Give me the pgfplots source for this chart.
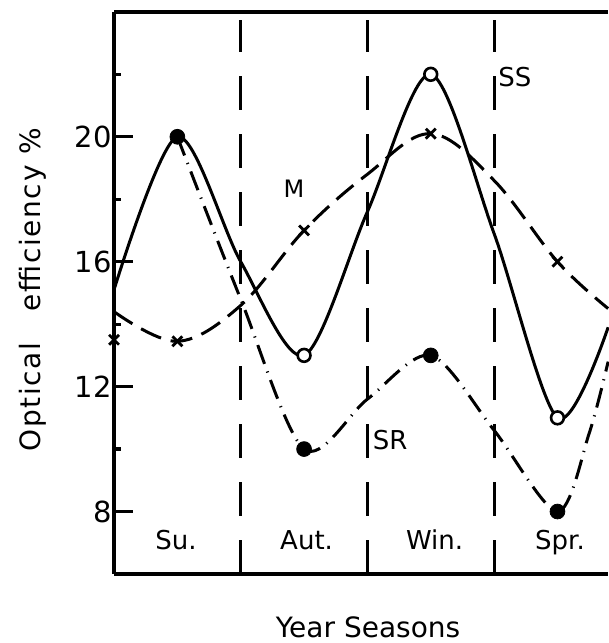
\documentclass[border=0pt]{standalone}
\usepackage{pgfplots}
\pgfplotsset{compat=1.18}
\usepackage{fontspec}
\setmainfont{DejaVu Sans}

\begin{document}
\begin{tikzpicture}
\begin{axis}[
  scale only axis,
  width=247pt, height=281pt,
  xmin=0, xmax=3.9,
  ymin=6, ymax=24,
  axis x line*=box,
  axis y line*=left,
  axis line style={line width=1.8pt},
  xtick=\empty,
  ytick={8,12,16,20},
  minor ytick={10,14,18,22},
  tick align=inside,
  major tick length=9.5pt,
  minor tick length=3.5pt,
  every tick/.style={black, line width=1.6pt},
  /pgf/number format/assume math mode=true,
  yticklabel style={font=\fontsize{14.5}{17}\selectfont, inner sep=0pt, xshift=-1pt},
  clip=false,
]

% season boundaries
\addplot[line width=1.5pt, dash pattern=on 17pt off 12pt] coordinates {(1,6) (1,23.75)};
\addplot[line width=1.5pt, dash pattern=on 17pt off 12pt] coordinates {(2,6) (2,23.75)};
\addplot[line width=1.5pt, dash pattern=on 17pt off 12pt] coordinates {(3,6) (3,23.75)};

% SS
\addplot[line width=1.5pt, smooth, tension=0.5] coordinates {
(0,15.1) (0.5,20) (1,16) (1.5,13) (2,17.6) (2.5,22) (3,16.9) (3.5,11) (3.9,13.9)
};

% M
\addplot[line width=1.5pt, smooth, tension=0.6, dash pattern=on 11pt off 5pt] coordinates {
(0,14.4) (0.5,13.45) (1,14.6) (1.5,17) (2,18.8) (2.5,20.1) (3,18.6) (3.5,16) (3.9,14.5)
};

% SR
\addplot[line width=1.5pt, smooth, tension=0.5, dash pattern=on 10pt off 4pt on 0.6pt off 4pt] coordinates {
(0.5,20) (1,14.8) (1.5,10) (2,11.6) (2.5,13) (3,10.6) (3.5,8) (3.75,10.5) (3.9,12.8)
};

% marks
\addplot[only marks, mark=x, mark size=3.5pt, line width=1.4pt] coordinates {
(0,13.5) (0.5,13.45) (1.5,17) (2.5,20.1) (3.5,16)
};
\addplot[only marks, mark=*, mark size=3.7pt, fill=black] coordinates {
(0.5,20) (1.5,10) (2.5,13) (3.5,8)
};
\addplot[only marks, mark=*, mark size=3.2pt, fill=white, line width=1.3pt] coordinates {
(1.5,13) (2.5,22) (3.5,11)
};

% labels
\node[anchor=base, font=\fontsize{13}{15}\selectfont] at (axis cs:0.49,6.8) {Su.};
\node[anchor=base, font=\fontsize{13}{15}\selectfont] at (axis cs:1.52,6.8) {Aut.};
\node[anchor=base, font=\fontsize{13}{15}\selectfont] at (axis cs:2.53,6.8) {Win.};
\node[anchor=base, font=\fontsize{13}{15}\selectfont] at (axis cs:3.52,6.8) {Spr.};
\node[anchor=base, font=\fontsize{12}{14}\selectfont] at (axis cs:1.42,18.04) {M};
\node[anchor=base west, inner sep=0pt, font=\fontsize{13}{15}\selectfont] at (axis cs:3.03,21.6) {SS};
\node[anchor=base west, inner sep=0pt, font=\fontsize{13}{15}\selectfont] at (axis cs:2.04,10.0) {SR};

\node[inner sep=0pt, font=\fontsize{14}{17}\selectfont] at (axis cs:2.005,4.3) {Year Seasons};
\node[rotate=90, font=\fontsize{14}{17}\selectfont, inner sep=0pt] at (axis cs:-0.64,15.1)
  {\addfontfeatures{LetterSpace=6}Optical\hspace{1.1em}efficiency \%};

\coordinate (bbLL) at (axis cs:-0.9,3.79);
\coordinate (bbUR) at (axis cs:3.9,24.38);
\end{axis}
\pgfresetboundingbox
\path[use as bounding box] (bbLL) rectangle (bbUR);
\end{tikzpicture}
\end{document}
